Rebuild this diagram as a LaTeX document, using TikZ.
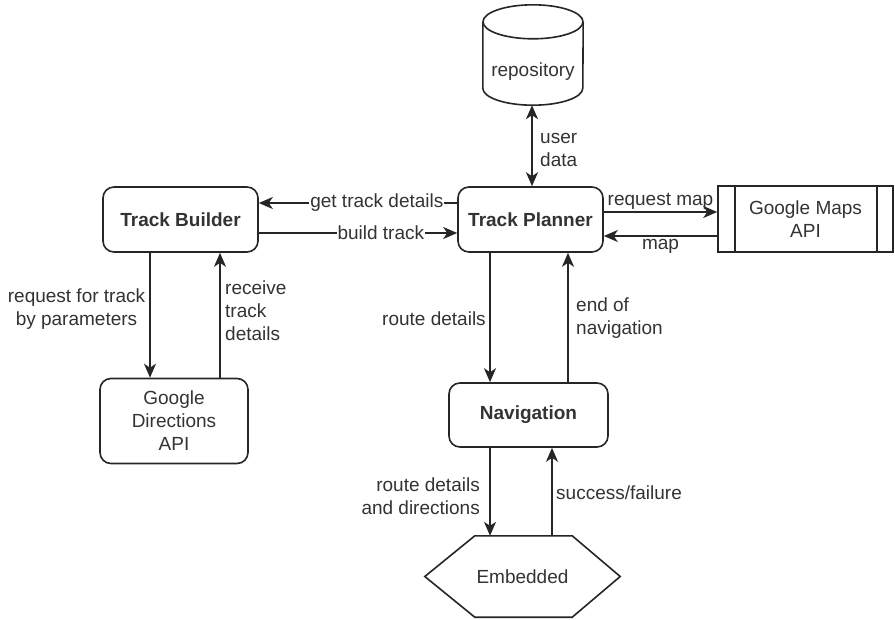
\documentclass[tikz,border=0pt]{standalone}
\usepackage{fontspec}
\setmainfont{Liberation Sans}
\usetikzlibrary{arrows.meta,calc}
\definecolor{linec}{HTML}{262626}
\definecolor{txtc}{HTML}{333333}
\begin{document}
\begin{tikzpicture}[x=1pt,y=-1pt,
  font=\fontsize{19}{23}\selectfont,
  every node/.style={text=txtc},
  shp/.style={draw=linec, line width=1.6pt},
  box/.style={shp, rounded corners=11pt, inner sep=0pt, font=\fontsize{19}{23}\selectfont\bfseries},
  plainbox/.style={shp, rounded corners=11pt, inner sep=0pt, align=center},
  arr/.style={draw=linec, line width=1.6pt, -{Stealth[length=14pt,width=12pt,inset=4pt]}},
  arrb/.style={draw=linec, line width=1.6pt, {Stealth[length=14pt,width=12pt,inset=4pt]}-{Stealth[length=14pt,width=12pt,inset=4pt]}},
  lbl/.style={fill=white, inner sep=1pt},
  txt/.style={inner sep=2pt}
]
\path[use as bounding box, fill=white] (0,0) rectangle (895,619);

% column / row helpers
\coordinate (c150) at (150,0);
\coordinate (c220) at (220,0);
\coordinate (c490) at (490,0);
\coordinate (c532) at (532,0);
\coordinate (c552) at (552,0);
\coordinate (c568) at (568,0);
\coordinate (r203) at (0,203);
\coordinate (r233) at (0,233);
\coordinate (r212) at (0,212);
\coordinate (r236) at (0,236);

% repository cylinder
\node[minimum width=100pt, minimum height=100pt, inner sep=0pt] (repo) at (533,55) {};
\draw[shp] ($(repo.north west)+(0,17)$) -- ($(repo.south west)+(0,-17)$)
  arc[start angle=180, end angle=0, x radius=50, y radius=17]
  -- ($(repo.north east)+(0,17)$);
\draw[shp] ($(repo.north)+(0,17)$) ellipse[x radius=50, y radius=17];
\node[txt] (repotxt) at (533,72) {repository};

% main boxes
\node[box, minimum width=155pt, minimum height=65pt] (tb) at (180.5,219.5) {Track Builder};
\node[box, minimum width=145pt, minimum height=65pt] (tp) at (530.5,219.5) {Track Planner};
\node[plainbox, minimum width=148pt, minimum height=85pt] (gd) at (174,421) {Google\\Directions\\API};
\node[box, minimum width=159pt, minimum height=64pt] (nav) at (528.5,415) {Navigation};
\node[shp, minimum width=175pt, minimum height=66pt, align=center, inner sep=0pt] (gm) at (805.5,219) {Google Maps\\API};
\draw[shp] ($(gm.north west)+(18,0)$) -- ($(gm.south west)+(18,0)$);
\draw[shp] ($(gm.north east)+(-17,0)$) -- ($(gm.south east)+(-17,0)$);

% embedded hexagon
\node[inner sep=0pt, minimum width=195pt, minimum height=81pt] (emb) at (522.5,576.5) {Embedded};
\draw[shp] (emb.west) -- ($(emb.north west)+(50,0)$) -- ($(emb.north east)+(-48,0)$)
  -- (emb.east) -- ($(emb.south east)+(-48,0)$) -- ($(emb.south west)+(50,0)$) -- cycle;

% connectors
\draw[arrb] (repo.south -| c532) -- (tp.north -| c532);
\node[txt, align=left, anchor=west] (lud) at (538,150) {user\\data};

\draw[arr] (tp.west |- r203) -- node[lbl, pos=0.405] (lgt) {get track details} (tb.east |- r203);
\draw[arr] (tb.east |- r233) -- node[lbl, pos=0.615] (lbt) {build track} (tp.west |- r233);
\draw[arr] (tp.east |- r212) -- node[above, inner sep=2pt] (lrm) {request map} (gm.west |- r212);
\draw[arr] (gm.west |- r236) -- node[below, inner sep=2pt] (lmap) {map} (tp.east |- r236);

\draw[arr] (tb.south -| c150) -- (gd.north -| c150);
\draw[arr] (gd.north -| c220) -- (tb.south -| c220);
\node[txt, align=center] (lrq) at (76.5,309.5) {request for track\\by parameters};
\node[txt, align=left, anchor=west] (lrc) at (223,311) {receive\\track\\details};

\draw[arr] (tp.south -| c490) -- (nav.north -| c490);
\draw[arr] (nav.north -| c568) -- (tp.south -| c568);
\node[txt] (lrd) at (434,319) {route details};
\node[txt, align=left, anchor=west] (len) at (574,318) {end of\\navigation};

\draw[arr] (nav.south -| c490) -- (emb.north -| c490);
\draw[arr] (emb.north -| c552) -- (nav.south -| c552);
\node[txt, align=right, anchor=east] (lrdd) at (482,496.5) {route details\\and directions};
\node[txt, anchor=west] (lsf) at (554,493) {success/failure};
\end{tikzpicture}
\end{document}
